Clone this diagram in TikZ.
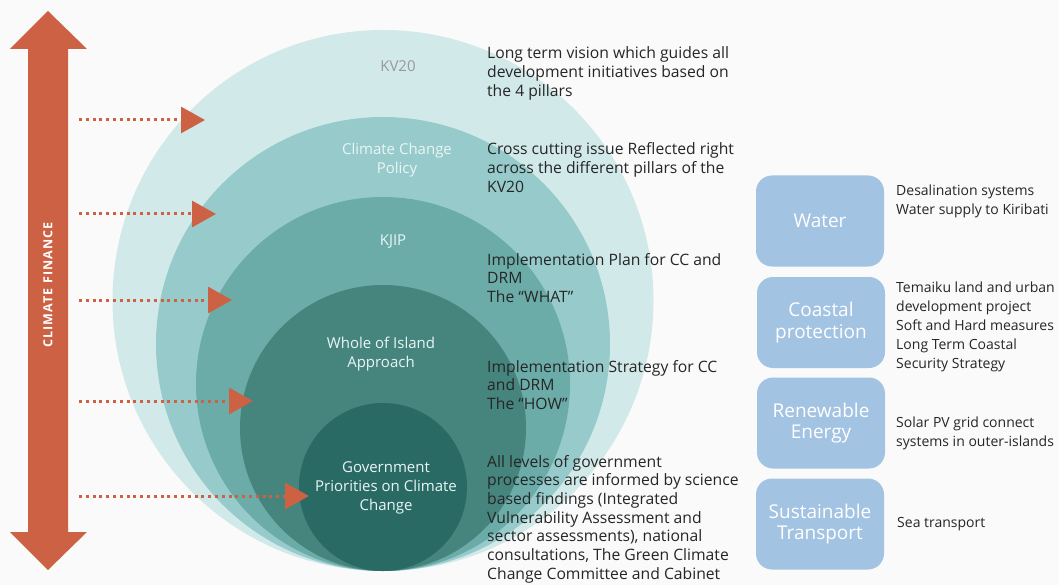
\documentclass[tikz,border=0pt]{standalone}
\usepackage{fontspec}
\setmainfont{Open Sans}
\newfontfamily\capsfont[LetterSpace=9]{Open Sans}
\usetikzlibrary{arrows.meta, positioning}
\definecolor{paper}{HTML}{FAFAFA}
\definecolor{ringA}{HTML}{D2E9E9}
\definecolor{ringB}{HTML}{97CBCB}
\definecolor{ringC}{HTML}{6BACA8}
\definecolor{ringD}{HTML}{46847E}
\definecolor{ringE}{HTML}{2A6A65}
\definecolor{ringtext}{HTML}{EAF5F5}
\definecolor{finance}{HTML}{CC6144}
\definecolor{sectorblue}{HTML}{A3C3E3}
\definecolor{ink}{HTML}{262626}
\tikzstyle{disc}       = [circle, inner sep=0pt, draw=none]
\tikzstyle{ringlabel}  = [font=\fontsize{15}{19}\selectfont, text=ringtext, align=center,
                          anchor=base, inner sep=0pt]
\tikzstyle{note}       = [font=\fontsize{15.7}{18.7}\selectfont, text=ink, align=left,
                          anchor=base west, inner sep=0pt]
\tikzstyle{sector}     = [rectangle, rounded corners=16pt, fill=sectorblue, minimum width=128pt,
                          minimum height=91pt, text=white, align=center,
                          font=\fontsize{19}{21.5}\selectfont]
\tikzstyle{sectornote} = [font=\fontsize{14}{19}\selectfont, text=ink, align=left,
                          anchor=base west, inner sep=0pt]
\tikzstyle{flow}       = [line width=3pt, dash pattern=on 3pt off 3.8pt, draw=finance,
                          -{Triangle[length=24pt,width=26pt]}]

\begin{document}
\begin{tikzpicture}[x=1pt, y=-1pt, node distance=10pt]
  \fill[paper] (0,0) rectangle (1059,585);
  \useasboundingbox (0,0) rectangle (1059,585);

  % climate finance arrow
  \fill[finance] (48,11) -- (87,49) -- (68,49) -- (68,532) -- (87,532) -- (48,570)
    -- (10,532) -- (28,532) -- (28,49) -- (10,49) -- cycle;
  \node (finlabel) at (48,285) [rotate=90, text=white, font=\capsfont\bfseries\fontsize{12.5}{13}\selectfont] {CLIMATE FINANCE};

  % nested circles
  \node (kv20) [disc, fill=ringA, minimum size=541pt] at (383,300.5) {};
  \node (ccp)  [disc, fill=ringB, minimum size=454pt] at (383,344) {};
  \node (kjip) [disc, fill=ringC, minimum size=374pt] at (383,384) {};
  \node (woi)  [disc, fill=ringD, minimum size=286pt] at (383,428) {};
  \node (gov)  [disc, fill=ringE, minimum size=168pt] at (383,487) {};

  % base anchor sits on the last line
  \node (kv20lbl) [ringlabel, text=black!40] at (398,72) {KV20};
  \node (ccplbl)  [ringlabel] at (397,174) {Climate Change\\Policy};
  \node (kjiplbl) [ringlabel] at (393,246) {KJIP};
  \node (woilbl)  [ringlabel] at (381,367) {Whole of Island\\Approach};
  \node (govlbl)  [ringlabel] at (386,510) {Government\\Priorities on Climate\\Change};

  % finance flows
  \coordinate (src1) at (79,120);  \coordinate (dst1) at (205,120);
  \coordinate (src2) at (79,214);  \coordinate (dst2) at (216,214);
  \coordinate (src3) at (79,300);  \coordinate (dst3) at (232,300);
  \coordinate (src4) at (79,401);  \coordinate (dst4) at (253,401);
  \coordinate (src5) at (79,496);  \coordinate (dst5) at (309,496);
  \draw[flow] (src1) -- (dst1);
  \draw[flow] (src2) -- (dst2);
  \draw[flow] (src3) -- (dst3);
  \draw[flow] (src4) -- (dst4);
  \draw[flow] (src5) -- (dst5);

  % descriptions
  \node (kv20note) [note] at (487,96.4) {Long term vision which guides all\\development initiatives based on\\the 4 pillars};
  \node (ccpnote)  [note] at (487,192.4) {Cross cutting issue Reflected right\\across the different pillars of the\\KV20};
  \node (kjipnote) [note] at (487,302.4) {Implementation Plan for CC and\\DRM\\The “WHAT”};
  \node (woinote)  [note] at (487,409.4) {Implementation Strategy for CC\\and DRM\\The “HOW”};
  \node (govnote)  [note] at (487,579.2) {All levels of government\\processes are informed by science\\based findings (Integrated\\Vulnerability Assessment and\\sector assessments), national\\consultations, The Green Climate\\Change Committee and Cabinet};

  % sectors
  \node (water)     [sector] at (820,221) {Water};
  \node (coastal)   [sector] at (821,322.5) {Coastal\\protection};
  \node (renewable) [sector] at (821,423) {Renewable\\Energy};
  \node (transport) [sector] at (820,524) {Sustainable\\Transport};

  \node (waternote)     [sectornote] at (896,215) {Desalination systems\\Water supply to Kiribati};
  \node (coastalnote)   [sectornote] at (896,368) {Temaiku land and urban\\development project\\Soft and Hard measures\\Long Term Coastal\\Security Strategy};
  \node (renewablenote) [sectornote] at (896,446) {Solar PV grid connect\\systems in outer-islands};
  \node (transportnote) [sectornote] at (897,527) {Sea transport};
\end{tikzpicture}
\end{document}
